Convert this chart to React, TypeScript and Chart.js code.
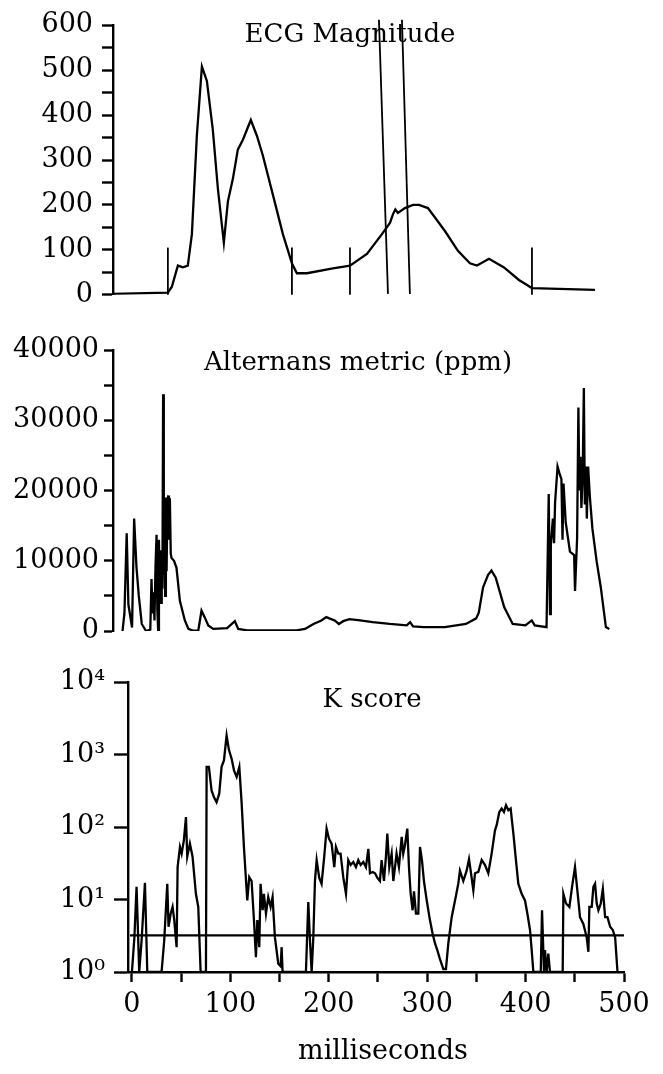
import React, { useEffect, useRef } from 'react';
import { Chart, registerables } from 'chart.js';

Chart.register(...registerables);

const FONT_FAMILY = '"DejaVu Serif", "Liberation Serif", serif';

// ---------- ECG Magnitude (time in ms, magnitude) ----------
const ecgPoints: [number, number][] = [
  [-20, 2], [35.3, 5], [39.3, 18], [45.4, 65], [50.4, 61], [55.4, 65], [59.5, 135],
  [64.5, 354], [69.6, 508], [74.6, 476], [80.6, 367], [85.7, 236], [91.7, 116],
  [95.8, 208], [100.8, 258], [105.8, 323], [110.9, 345], [118.9, 389], [125.0, 354],
  [131.0, 310], [141.1, 223], [151.2, 135], [160.3, 70], [165.3, 48], [175.4, 48],
  [201.6, 59], [218.8, 65], [235.9, 91], [251.0, 135], [259.1, 160], [262.1, 179],
  [264.5, 190], [267.1, 182], [274.2, 193], [282.3, 200], [288.3, 200], [297.4, 193],
  [314.5, 142], [327.6, 98], [339.7, 70], [346.8, 65], [358.9, 80], [374.0, 61],
  [389.1, 33], [402.2, 15], [465.7, 11],
];
const ecgShortMarkerTimes = [35.3, 160.3, 218.8, 402.2];
const ecgShortMarkerRange = [0, 105];
const ecgSlantMarkerTopTimes = [248.0, 271.2];
const ecgSlantMarkerBottomTimes = [257.1, 279.2];
const ecgSlantMarkerRange = [612, 2];
const ecgYTicks = [0, 50, 100, 150, 200, 250, 300, 350, 400, 450, 500, 550, 600];

// ---------- Alternans metric (ppm) ----------
const altPoints: [number, number][] = [
  [-10.4, 0], [-8.5, 2500], [-6.2, 13900], [-4.5, 3800], [-0.8, 500], [1.3, 16000],
  [3.7, 9000], [6.0, 5000], [9.0, 1000], [13.3, 0], [17.6, 200], [18.8, 7400],
  [19.8, 2500], [20.8, 5500], [21.8, 1500], [22.8, 9000], [23.9, 13700], [24.7, 3000],
  [25.5, 0], [26.3, 13000], [27.0, 5000], [27.7, 11500], [28.4, 4000], [29.1, 9500],
  [29.8, 6000], [30.5, 33700], [31.2, 8000], [31.9, 11000], [32.6, 5000], [33.3, 19000],
  [34.0, 8500], [34.8, 18000], [35.6, 19300], [36.4, 13000], [37.3, 18900], [38.2, 11000],
  [39.0, 10400], [41.5, 10000], [44.0, 9000], [47.4, 4300], [52.4, 1500], [56.0, 300],
  [60.5, 50], [66.0, 100], [69.2, 2900], [72.6, 1900], [76.0, 800], [81.0, 300],
  [95.0, 400], [102.8, 1400], [106.2, 300], [115.0, 100], [165.0, 100], [173.5, 300],
  [182.0, 1000], [190.0, 1500], [194.9, 2000], [198.0, 1800], [203.4, 1500], [207.6, 1000],
  [212.0, 1400], [218.3, 1700], [229.0, 1500], [241.8, 1260], [258.9, 1000], [276.0, 800],
  [279.4, 1260], [282.4, 650], [293.1, 560], [314.4, 560], [335.7, 1000], [346.0, 1800],
  [348.6, 2600], [352.9, 6200], [358.0, 8000], [361.4, 8600], [365.7, 7600], [374.2, 3400],
  [382.8, 1000], [395.6, 800], [402.0, 1500], [405.0, 800], [416.9, 560], [419.1, 19500],
  [420.4, 2400], [421.2, 12200], [423.3, 16000], [424.5, 12500], [425.5, 18300],
  [428.0, 23400], [429.8, 22500], [431.9, 21600], [433.0, 13000], [434.0, 21000],
  [436.2, 15500], [440.5, 11300], [444.7, 10800], [445.6, 5700], [447.7, 13200],
  [449.0, 31800], [450.0, 20000], [451.1, 24800], [452.0, 17500], [453.3, 22000],
  [454.5, 34600], [455.5, 18000], [456.7, 23400], [457.5, 16000], [458.8, 23400],
  [460.5, 19200], [463.1, 14600], [467.4, 9900], [471.6, 6200], [476.7, 560], [480.1, 300],
];
const altYTicks = [0, 5000, 10000, 15000, 20000, 25000, 30000, 35000, 40000];

// ---------- K score ----------
const kPoints: [number, number][] = [
  [0, 1], [2.5, 3], [4.7, 15], [7.4, 1], [9.8, 2.7], [13.2, 17], [15.6, 1], [30.1, 1],
  [32.8, 2.7], [35.9, 16.5], [37.2, 4.2], [39.3, 6.3], [41.3, 7.9], [43.0, 5.2], [45.4, 2.2],
  [46.4, 28], [48.8, 53], [50.5, 43], [52.8, 66], [54.9, 137], [56.2, 39], [58.9, 59],
  [61.6, 39], [65.0, 12], [67.4, 7.9], [69.8, 1], [75.2, 1], [75.9, 676], [78.2, 676],
  [80.9, 320], [83.3, 259], [86.0, 220], [88.7, 288], [91.1, 676], [93.5, 830],
  [96.2, 1830], [98.6, 1150], [101.3, 875], [103.7, 605], [106.4, 490], [109.1, 676],
  [111.5, 210], [113.8, 53], [115.9, 18.4], [117.2, 9.7], [119.2, 20.4], [121.6, 18],
  [124.0, 5.2], [126.0, 1.6], [127.4, 5.2], [129.4, 2.2], [130.7, 16.5], [132.8, 7.1],
  [134.1, 12], [136.2, 6.4], [138.5, 10.8], [140.9, 7.9], [142.9, 10.8], [145.3, 3.0],
  [148.7, 1.3], [151.1, 1.2], [152.1, 2.2], [153.1, 1], [176.8, 1], [179.2, 9.2],
  [180.9, 2.7], [182.6, 1], [184.3, 3.0], [186.0, 18.4], [187.7, 35], [190.3, 20],
  [192.7, 16.5], [195.4, 39], [197.8, 95], [200.2, 69], [202.9, 59], [205.6, 28],
  [207.3, 53], [209.7, 43], [212.0, 43], [214.8, 20], [217.5, 12], [219.8, 35],
  [222.2, 30], [224.9, 33], [227.6, 28], [230.0, 35], [232.4, 30], [235.1, 33],
  [237.8, 28], [240.2, 50], [241.9, 23], [244.6, 24], [247.0, 23], [249.3, 20],
  [252.0, 18], [253.7, 35], [256.1, 18], [258.1, 39], [259.5, 81], [261.5, 28],
  [263.9, 43], [265.6, 18], [267.3, 28], [268.9, 43], [271.3, 28], [274.1, 73],
  [275.7, 43], [277.4, 56], [279.8, 95], [281.5, 28], [283.2, 12], [285.2, 7.1],
  [286.6, 13], [288.6, 6.4], [291.0, 6.4], [292.7, 53], [294.7, 35], [296.7, 18],
  [299.5, 9.8], [302.8, 5.2], [305.5, 3.4], [307.9, 2.5], [310.3, 2.0], [313.0, 1.5],
  [316.4, 1.1], [319.1, 1.1], [321.5, 2.5], [324.9, 5.7], [328.3, 9.7], [331.6, 16.5],
  [333.3, 25], [336.7, 18], [340.1, 25], [342.5, 36], [344.2, 25], [346.9, 13.4],
  [348.6, 23], [352.0, 24], [355.4, 35], [358.7, 30], [362.1, 23], [365.5, 43],
  [368.9, 90], [370.6, 106], [373.3, 161], [375.7, 180], [378.0, 161], [380.1, 200],
  [382.5, 170], [384.8, 180], [387.6, 81], [390.2, 35], [392.6, 16.5], [396.0, 12],
  [399.4, 9.7], [401.8, 6.4], [404.5, 3.8], [406.2, 2.0], [407.9, 1], [415.4, 1],
  [416.7, 7.1], [418.7, 1], [419.7, 2.0], [421.4, 1], [423.1, 1.8], [424.8, 1],
  [437.7, 1], [438.4, 12], [441.1, 8.8], [444.5, 7.9], [447.2, 14.9], [450.2, 28],
  [452.6, 13.4], [455.3, 5.7], [458.7, 4.6], [462.1, 3.0], [463.8, 1.9], [464.8, 7.9],
  [467.2, 7.9], [468.9, 14.9], [470.6, 16.5], [472.3, 8.8], [474.0, 7.1], [476.4, 8.8],
  [478.5, 14], [480.8, 5.7], [483.2, 5.7], [485.9, 4.2], [488.6, 3.8], [491.0, 3.0],
  [493.4, 1],
];
const kThreshold = 3.2;
const kThresholdRange = [-2, 500];
const kYTicks = [1, 10, 100, 1000, 10000];
const msTicks = [0, 50, 100, 150, 200, 250, 300, 350, 400, 450, 500];

const TITLE_ECG = 'ECG Magnitude';
const TITLE_ALT = 'Alternans metric (ppm)';
const TITLE_K = 'K score';
const X_TITLE = 'milliseconds';

const SUP: Record<string, string> = { '0': '⁰', '1': '¹', '2': '²', '3': '³', '4': '⁴' };

const LINE_W = 2.3;
const AXIS_W = 2.4;

const toXY = (pts: [number, number][]) => pts.map(([x, y]) => ({ x, y }));

const lineDs = (data: { x: number; y: number }[], width = LINE_W, clip: any = undefined) => ({
  data,
  borderColor: '#000',
  backgroundColor: '#000',
  borderWidth: width,
  pointRadius: 0,
  tension: 0,
  fill: false,
  ...(clip !== undefined ? { clip } : {}),
});

const textPlugin = (items: { text: string; x: number; y: number; size: number }[]) => ({
  id: 'overlayText',
  afterDraw(chart: any) {
    const ctx = chart.ctx;
    ctx.save();
    ctx.fillStyle = '#000';
    ctx.textAlign = 'center';
    ctx.textBaseline = 'alphabetic';
    for (const t of items) {
      ctx.font = `${t.size}px ${FONT_FAMILY}`;
      ctx.fillText(t.text, t.x, t.y);
    }
    ctx.restore();
  },
});

const yAxis = (width: number, tickLength: number, padding: number, tickValues: number[], cb: (v: number) => string) => ({
  afterFit: (s: any) => {
    s.width = width;
  },
  afterBuildTicks: (s: any) => {
    s.ticks = tickValues.map((v) => ({ value: v }));
  },
  grid: {
    display: true,
    drawOnChartArea: false,
    drawTicks: true,
    tickLength,
    tickWidth: AXIS_W,
    tickColor: '#000',
  },
  border: { display: true, color: '#000', width: AXIS_W },
  ticks: {
    autoSkip: false,
    color: '#000',
    padding,
    font: { family: FONT_FAMILY, size: 27 },
    callback: (v: any) => cb(Number(v)),
  },
});

function ChartCanvas({ top, height, build }: { top: number; height: number; build: () => any }) {
  const ref = useRef<HTMLCanvasElement | null>(null);
  useEffect(() => {
    if (!ref.current) return;
    const chart = new Chart(ref.current, build());
    return () => chart.destroy();
  }, []);
  return (
    <canvas
      ref={ref}
      width={663}
      height={height}
      style={{ position: 'absolute', left: 0, top, width: 663, height, display: 'block' }}
    />
  );
}

const baseOptions = {
  animation: false,
  responsive: false,
  devicePixelRatio: 1,
  events: [],
  plugins: { legend: { display: false }, tooltip: { enabled: false }, title: { display: false } },
};

const buildEcg = () => {
  const datasets: any[] = [lineDs(toXY(ecgPoints))];
  ecgShortMarkerTimes.forEach((t) => {
    datasets.push(lineDs([{ x: t, y: ecgShortMarkerRange[0] }, { x: t, y: ecgShortMarkerRange[1] }], 1.8, false));
  });
  ecgSlantMarkerTopTimes.forEach((t, i) => {
    datasets.push(
      lineDs(
        [
          { x: t, y: ecgSlantMarkerRange[0] },
          { x: ecgSlantMarkerBottomTimes[i], y: ecgSlantMarkerRange[1] },
        ],
        1.8,
        false
      )
    );
  });
  return {
    type: 'line',
    data: { datasets },
    options: {
      ...baseOptions,
      layout: { padding: { left: 0, right: 34, top: 22, bottom: 25 } },
      scales: {
        x: { type: 'linear', min: -20, max: 500, display: false },
        y: {
          type: 'linear',
          min: 0,
          max: 600,
          ...yAxis(113, 11, 9, ecgYTicks, (v) => (v % 100 === 0 ? String(v) : '')),
        },
      },
    },
    plugins: [textPlugin([{ text: TITLE_ECG, x: 350, y: 42, size: 26 }])],
  };
};

const buildAlt = () => ({
  type: 'line',
  data: { datasets: [lineDs(toXY(altPoints))] },
  options: {
    ...baseOptions,
    layout: { padding: { left: 0, right: 34, top: 30, bottom: 24 } },
    scales: {
      x: { type: 'linear', min: -20, max: 500, display: false },
      y: {
        type: 'linear',
        min: 0,
        max: 40000,
        ...yAxis(113, 9, 5, altYTicks, (v) => (v % 10000 === 0 ? String(v) : '')),
      },
    },
  },
  plugins: [textPlugin([{ text: TITLE_ALT, x: 358, y: 50, size: 26 }])],
});

const buildK = () => ({
  type: 'line',
  data: {
    datasets: [
      lineDs(toXY(kPoints)),
      lineDs(
        [
          { x: kThresholdRange[0], y: kThreshold },
          { x: kThresholdRange[1], y: kThreshold },
        ],
        LINE_W
      ),
    ],
  },
  options: {
    ...baseOptions,
    layout: { padding: { left: 0, right: 39, top: 27, bottom: 0 } },
    scales: {
      x: {
        type: 'linear',
        min: -4,
        max: 500,
        afterFit: (s: any) => {
          s.height = 102;
        },
        afterBuildTicks: (s: any) => {
          s.ticks = msTicks.map((v) => ({ value: v }));
        },
        grid: {
          display: true,
          drawOnChartArea: false,
          drawTicks: true,
          tickLength: 10,
          tickWidth: AXIS_W,
          tickColor: '#000',
        },
        border: { display: true, color: '#000', width: AXIS_W },
        ticks: {
          autoSkip: false,
          maxRotation: 0,
          color: '#000',
          padding: 7,
          font: { family: FONT_FAMILY, size: 27 },
          callback: (v: any) => (Number(v) % 100 === 0 ? String(v) : ''),
        },
      },
      y: {
        type: 'logarithmic',
        min: 1,
        max: 10000,
        ...yAxis(128, 14, 9, kYTicks, (v) => '10' + (SUP[String(Math.round(Math.log10(v)))] || '')),
      },
    },
  },
  plugins: [
    textPlugin([
      { text: TITLE_K, x: 372, y: 52, size: 26 },
      { text: X_TITLE, x: 383, y: 404, size: 27 },
    ]),
  ],
});

export default function App() {
  return (
    <div style={{ position: 'absolute', left: 0, top: 0, width: 663, height: 1074, background: '#fff' }}>
      <ChartCanvas top={0} height={320} build={buildEcg} />
      <ChartCanvas top={320} height={335} build={buildAlt} />
      <ChartCanvas top={655} height={419} build={buildK} />
    </div>
  );
}
